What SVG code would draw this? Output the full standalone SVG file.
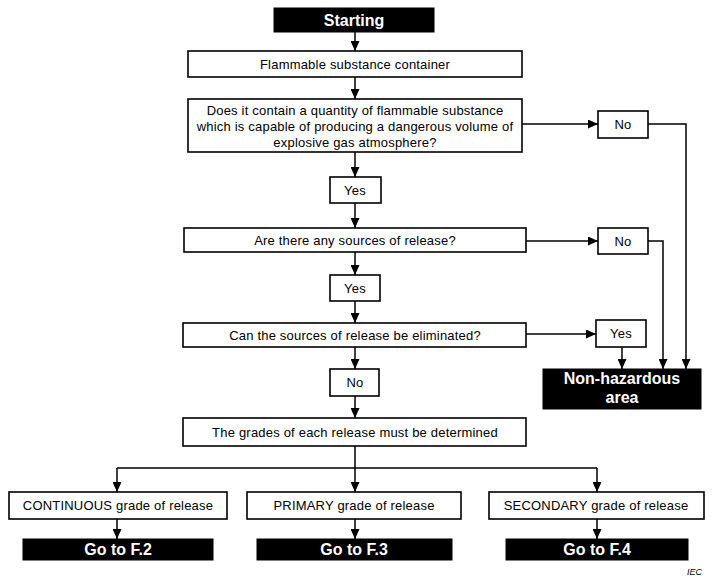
<svg xmlns="http://www.w3.org/2000/svg" width="725" height="583" viewBox="0 0 725 583">
<style>
.box{fill:#fff;stroke:#000;stroke-width:1.6}
.blk{fill:#000;stroke:#000;stroke-width:1}
.t{font-family:"Liberation Sans",Arial,sans-serif;font-size:13px;fill:#000;text-anchor:middle;letter-spacing:0.2px}
.b{font-family:"Liberation Sans",Arial,sans-serif;font-size:16px;font-weight:bold;fill:#fff;text-anchor:middle}
.c{fill:none;stroke:#000;stroke-width:1.5}
</style>
<defs>
<marker id="ah" markerUnits="userSpaceOnUse" markerWidth="10" markerHeight="9" refX="10" refY="4.5" orient="auto">
<path d="M0,0 L10,4.5 L0,9 z" fill="#000"/>
</marker>
</defs>
<rect width="725" height="583" fill="#fff"/>
<g id="connectors">
<path class="c" d="M355,32 V51" marker-end="url(#ah)"/>
<path class="c" d="M355,77 V99" marker-end="url(#ah)"/>
<path class="c" d="M355,152 V177" marker-end="url(#ah)"/>
<path class="c" d="M355,203 V228" marker-end="url(#ah)"/>
<path class="c" d="M355,252 V275" marker-end="url(#ah)"/>
<path class="c" d="M355,301 V323" marker-end="url(#ah)"/>
<path class="c" d="M355,347 V369" marker-end="url(#ah)"/>
<path class="c" d="M355,396 V418" marker-end="url(#ah)"/>
<path class="c" d="M355,446 V468 M117,468 H597"/>
<path class="c" d="M117,468 V492" marker-end="url(#ah)"/>
<path class="c" d="M355,468 V492" marker-end="url(#ah)"/>
<path class="c" d="M597,468 V492" marker-end="url(#ah)"/>
<path class="c" d="M117,519 V539" marker-end="url(#ah)"/>
<path class="c" d="M355,519 V539" marker-end="url(#ah)"/>
<path class="c" d="M597,519 V539" marker-end="url(#ah)"/>
<path class="c" d="M522,124 H598" marker-end="url(#ah)"/>
<path class="c" d="M648,124 H686 V369" marker-end="url(#ah)"/>
<path class="c" d="M526,241 H598" marker-end="url(#ah)"/>
<path class="c" d="M648,241 H663 V369" marker-end="url(#ah)"/>
<path class="c" d="M526,334 H596" marker-end="url(#ah)"/>
<path class="c" d="M622,347 V369" marker-end="url(#ah)"/>
</g>
<g id="start"><rect class="blk" x="274" y="8" width="160" height="24"/><text class="b" x="354" y="26">Starting</text></g>
<g id="container"><rect class="box" x="188" y="51" width="334" height="26"/><text class="t" x="355" y="69">Flammable substance container</text></g>
<g id="q1"><rect class="box" x="188" y="99" width="334" height="53"/>
<text class="t" x="355" y="115">Does it contain a quantity of flammable substance</text>
<text class="t" x="355" y="131">which is capable of producing a dangerous volume of</text>
<text class="t" x="355" y="147">explosive gas atmosphere?</text></g>
<g id="no1"><rect class="box" x="598" y="111" width="50" height="27"/><text class="t" x="623" y="129">No</text></g>
<g id="yes1"><rect class="box" x="330" y="177" width="51" height="26"/><text class="t" x="355" y="195">Yes</text></g>
<g id="q2"><rect class="box" x="184" y="228" width="342" height="24"/><text class="t" x="355" y="245">Are there any sources of release?</text></g>
<g id="no2"><rect class="box" x="598" y="228" width="50" height="26"/><text class="t" x="623" y="246">No</text></g>
<g id="yes2"><rect class="box" x="330" y="275" width="50" height="26"/><text class="t" x="355" y="293">Yes</text></g>
<g id="q3"><rect class="box" x="183" y="323" width="343" height="24"/><text class="t" x="355" y="340">Can the sources of release be eliminated?</text></g>
<g id="yes3"><rect class="box" x="596" y="320" width="50" height="27"/><text class="t" x="621" y="338">Yes</text></g>
<g id="nonhaz"><rect class="blk" x="543" y="369" width="158" height="40"/>
<text class="b" x="622" y="384">Non-hazardous</text><text class="b" x="622" y="403">area</text></g>
<g id="no3"><rect class="box" x="330" y="369" width="49" height="27"/><text class="t" x="355" y="387">No</text></g>
<g id="grades"><rect class="box" x="183" y="418" width="343" height="28"/><text class="t" x="355" y="437">The grades of each release must be determined</text></g>
<g id="continuous"><rect class="box" x="9" y="492" width="218" height="27"/><text class="t" x="118" y="510">CONTINUOUS grade of release</text></g>
<g id="primary"><rect class="box" x="247" y="492" width="214" height="27"/><text class="t" x="354" y="510">PRIMARY grade of release</text></g>
<g id="secondary"><rect class="box" x="489" y="492" width="215" height="27"/><text class="t" x="596" y="510">SECONDARY grade of release</text></g>
<g id="f2"><rect class="blk" x="23" y="539" width="190" height="21"/><text class="b" x="118" y="555">Go to F.2</text></g>
<g id="f3"><rect class="blk" x="257" y="539" width="195" height="21"/><text class="b" x="354" y="555">Go to F.3</text></g>
<g id="f4"><rect class="blk" x="506" y="539" width="182" height="21"/><text class="b" x="597" y="555">Go to F.4</text></g>
<text x="702" y="575" font-family="'Liberation Sans',Arial,sans-serif" font-size="9" font-style="italic" text-anchor="end" fill="#000">IEC</text>
</svg>
